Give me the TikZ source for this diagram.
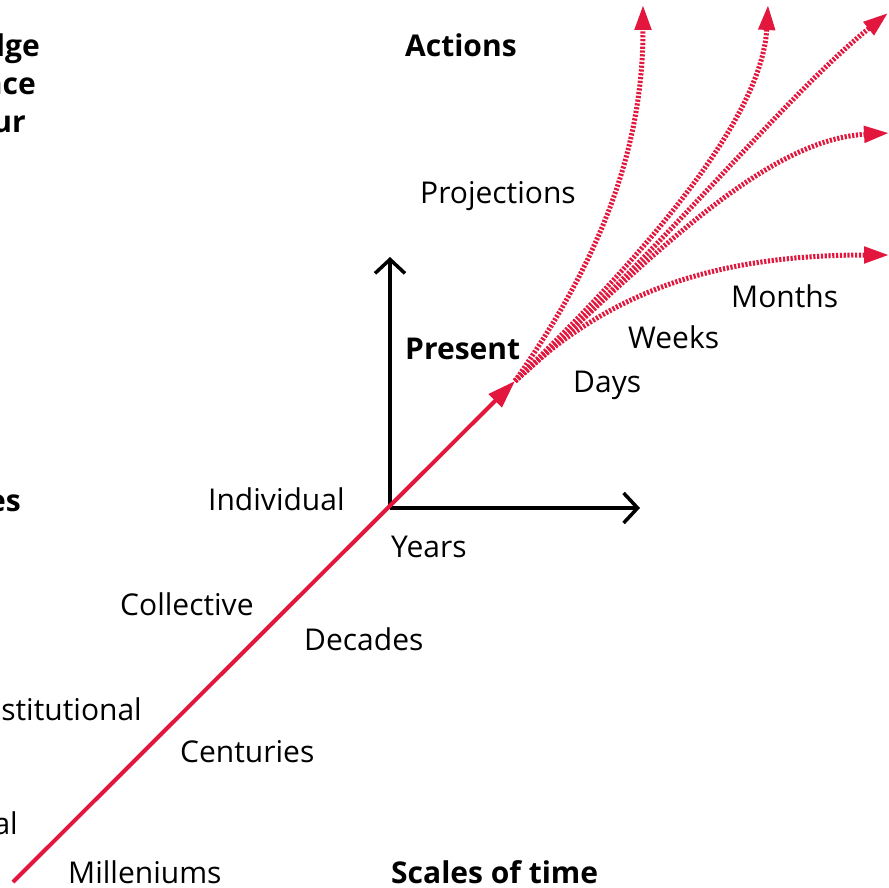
\documentclass[tikz,border=0pt]{standalone}
\usepackage{fontspec}
\setmainfont{Open Sans}
\usetikzlibrary{arrows.meta}
\definecolor{accent}{HTML}{E3173E}
\tikzset{
  lbl/.style={inner sep=0pt, font=\fontsize{30}{36}\selectfont, anchor=base west},
  lblr/.style={lbl, anchor=base east},
  bld/.style={lbl, font=\fontsize{30}{36}\selectfont\bfseries},
  bldr/.style={bld, anchor=base east},
  axis/.style={line width=3.5pt, black, -{Straight Barb[length=14pt,width=30pt]}},
  mainline/.style={line width=4pt, accent, -{Triangle[length=28pt,width=18pt]}},
  proj/.style={line width=5pt, accent, dash pattern=on 2.2pt off 1.6pt, -{Triangle[length=25pt,width=16pt]}}
}
\begin{document}
\begin{tikzpicture}[x=1pt,y=-1pt]
\useasboundingbox (0,0) rectangle (889,888);
% coordinates
\coordinate (O) at (390,508);
\coordinate (Ytop) at (390,257);
\coordinate (Xend) at (640,508);
\coordinate (Start) at (13,882);
\coordinate (P) at (515,381);
\coordinate (E1) at (643,5);
\coordinate (E2) at (768,5);
\coordinate (E3) at (888,13);
\coordinate (E4) at (889,133);
\coordinate (E5) at (889,255);
% axes
\draw[axis] (O) -- (Ytop);
\draw[axis] (O) -- (Xend);
% main line
\draw[mainline] (Start) -- (P);
% projections
\draw[proj] (P) .. controls (600,260) and (643,150) .. (E1);
\draw[proj] (P) .. controls (640,260) and (762,120) .. (E2);
\draw[proj] (P) .. controls (650,265) and (780,100) .. (E3);
\draw[proj] (P) .. controls (640,270) and (760,140) .. (E4);
\draw[proj] (P) .. controls (600,300) and (700,255) .. (E5);
% labels
\node[bld] (actions) at (405,57) {Actions};
\node[lbl] (projections) at (420,203) {Projections};
\node[bld] (present) at (405,359) {Present};
\node[lbl] (days) at (573,392) {Days};
\node[lbl] (weeks) at (628,348) {Weeks};
\node[lbl] (months) at (731,307) {Months};
\node[lbl] (individual) at (208,510) {Individual};
\node[lbl] (years) at (391,557) {Years};
\node[lbl] (collective) at (120,615) {Collective};
\node[lbl] (decades) at (304,650) {Decades};
\node[lblr] (institutional) at (142,720) {stitutional};
\node[lbl] (centuries) at (180,762) {Centuries};
\node[lblr] (al) at (18,834) {al};
\node[lbl] (milleniums) at (68,883) {Milleniums};
\node[bld] (scales) at (391,883) {Scales of time};
\node[bldr] (l1) at (40,57) {dge};
\node[bldr] (l2) at (36,95) {nce};
\node[bldr] (l3) at (26,133) {ur};
\node[bldr] (l4) at (21,511) {es};
\end{tikzpicture}
\end{document}
